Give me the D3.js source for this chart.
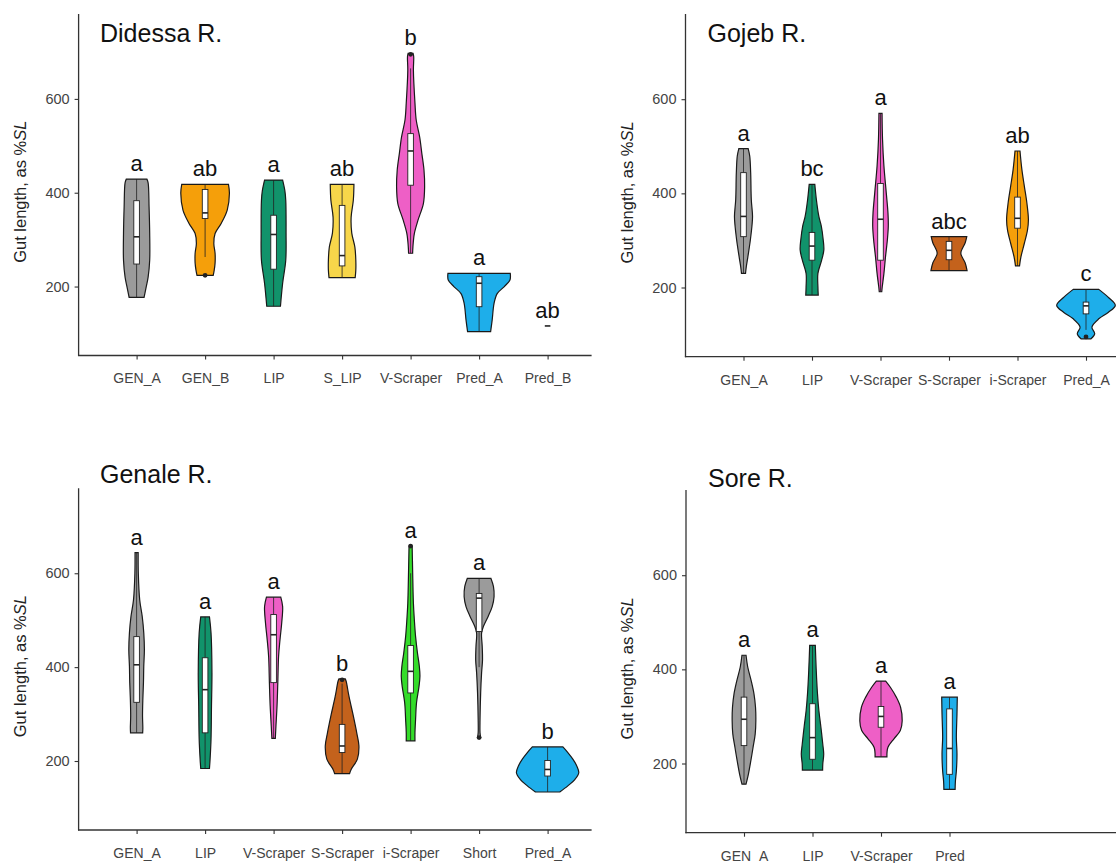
<!DOCTYPE html>
<html>
<head>
<meta charset="utf-8">
<script src="https://cdn.jsdelivr.net/npm/d3@7"></script>
<style>
  body { margin: 0; background: #fff; }
  svg text { font-family: Arial, "Liberation Sans", Helvetica, sans-serif; }
</style>
</head>
<body>
<svg id="chart" width="1116" height="863"></svg>
<script>
// ---------- data ----------
// profile points: [gut length %SL, relative violin half-width 0..1]
// boxes: [q1, median, q3, whisker low, whisker high]

var yTicks = [200, 400, 600];
var yDomain = [53, 781];

// Didessa R.
var didessaGroups = ["GEN_A", "GEN_B", "LIP", "S_LIP", "V-Scraper", "Pred_A", "Pred_B"];
var didessaColors = ["#9b9b9b", "#f59f0a", "#11936b", "#f7d64a", "#ee5fc6", "#1eaeea", "#1eaeea"];
var didessaLetters = ["a", "ab", "a", "ab", "b", "a", "ab"];
var didessaProfiles = [
  [[177, 0.24], [200, 0.31], [220, 0.37], [256, 0.42], [314, 0.42], [370, 0.40], [421, 0.37], [429, 0.33]],
  [[224, 0.26], [234, 0.29], [250, 0.32], [271, 0.32], [292, 0.28], [313, 0.32], [335, 0.52], [363, 0.71], [399, 0.78], [418, 0.75]],
  [[158, 0.22], [207, 0.29], [256, 0.39], [314, 0.40], [384, 0.39], [405, 0.36], [427, 0.29]],
  [[219, 0.42], [235, 0.44], [256, 0.44], [284, 0.41], [314, 0.31], [348, 0.29], [384, 0.36], [418, 0.38]],
  [[271, 0.065], [285, 0.075], [313, 0.12], [342, 0.24], [377, 0.41], [413, 0.45], [448, 0.43], [484, 0.36], [519, 0.29], [555, 0.18], [591, 0.14], [661, 0.09], [690, 0.10], [697, 0.08]],
  [[104, 0.37], [129, 0.42], [164, 0.48], [185, 0.58], [200, 0.81], [214, 0.99], [228, 1.0]],
  []
];
var didessaBoxes = [
  [248, 306, 383, 177, 429],
  [345, 357, 407, 263, 418],
  [237, 311, 352, 158, 427],
  [244, 266, 373, 219, 418],
  [416, 489, 526, 271, 665],
  [157, 207, 221, 104, 228],
  [116, 116, 116, 116, 116]
];
var didessaOutliers = [[], [224], [], [], [695], [], []];

// Gojeb R.
var gojebGroups = ["GEN_A", "LIP", "V-Scraper", "S-Scraper", "i-Scraper", "Pred_A"];
var gojebColors = ["#9b9b9b", "#11936b", "#ee5fc6", "#c4621c", "#f59f0a", "#1eaeea"];
var gojebLetters = ["a", "bc", "a", "abc", "ab", "c"];
var gojebProfiles = [
  [[230, 0.065], [244, 0.09], [265, 0.14], [301, 0.22], [330, 0.27], [351, 0.29], [387, 0.25], [444, 0.23], [479, 0.20], [495, 0.15]],
  [[184, 0.20], [201, 0.19], [230, 0.19], [258, 0.31], [280, 0.38], [301, 0.36], [330, 0.30], [351, 0.22], [387, 0.14], [419, 0.09]],
  [[191, 0.04], [201, 0.055], [230, 0.11], [265, 0.16], [301, 0.22], [330, 0.25], [358, 0.24], [401, 0.185], [458, 0.11], [515, 0.065], [570, 0.05]],
  [[236, 0.58], [252, 0.52], [273, 0.38], [295, 0.52], [308, 0.57]],
  [[246, 0.065], [265, 0.11], [294, 0.22], [322, 0.32], [344, 0.35], [380, 0.30], [415, 0.22], [451, 0.14], [490, 0.08]],
  [[91, 0.16], [102, 0.28], [116, 0.19], [134, 0.42], [147, 0.71], [162, 0.94], [180, 0.70], [196, 0.41]]
];
var gojebBoxes = [
  [308, 351, 444, 230, 495],
  [258, 288, 317, 184, 419],
  [258, 345, 421, 191, 570],
  [259, 279, 298, 236, 308],
  [326, 347, 392, 246, 490],
  [144, 161, 169, 110, 196]
];
var gojebOutliers = [[], [], [], [], [], [95]];

// Genale R.
var genaleGroups = ["GEN_A", "LIP", "V-Scraper", "S-Scraper", "i-Scraper", "Short", "Pred_A"];
var genaleColors = ["#9b9b9b", "#11936b", "#ee5fc6", "#c4621c", "#34dc2a", "#9b9b9b", "#1eaeea"];
var genaleLetters = ["a", "a", "a", "b", "a", "a", "b"];
var genaleProfiles = [
  [[260, 0.195], [271, 0.20], [296, 0.19], [331, 0.20], [367, 0.22], [402, 0.23], [437, 0.25], [473, 0.23], [508, 0.18], [543, 0.10], [600, 0.055], [644, 0.05]],
  [[184, 0.14], [204, 0.16], [246, 0.19], [317, 0.205], [388, 0.22], [473, 0.19], [507, 0.14]],
  [[248, 0.055], [274, 0.075], [317, 0.11], [367, 0.135], [423, 0.16], [458, 0.205], [494, 0.26], [529, 0.29], [549, 0.23]],
  [[173, 0.24], [182, 0.29], [204, 0.49], [232, 0.54], [260, 0.47], [296, 0.36], [338, 0.22], [370, 0.13], [375, 0.10]],
  [[243, 0.14], [260, 0.14], [289, 0.16], [324, 0.19], [359, 0.27], [381, 0.30], [402, 0.28], [430, 0.22], [465, 0.16], [501, 0.12], [536, 0.09], [607, 0.065], [658, 0.05]],
  [[250, 0.05], [260, 0.03], [289, 0.03], [345, 0.05], [388, 0.08], [416, 0.11], [444, 0.10], [473, 0.08], [487, 0.14], [508, 0.29], [529, 0.42], [550, 0.48], [572, 0.46], [589, 0.38]],
  [[134, 0.39], [147, 0.65], [161, 0.88], [175, 1.0], [189, 0.94], [204, 0.81], [218, 0.65], [230, 0.49]]
];
var genaleBoxes = [
  [325, 405, 465, 260, 644],
  [260, 352, 420, 184, 507],
  [367, 469, 512, 248, 549],
  [218, 232, 278, 173, 365],
  [345, 391, 446, 243, 600],
  [476, 547, 557, 400, 589],
  [168, 182, 201, 134, 230]
];
var genaleOutliers = [[], [], [], [373], [658], [250], []];

// Sore R.
var soreGroups = ["GEN_A", "LIP", "V-Scraper", "Pred"];
var soreColors = ["#9b9b9b", "#11936b", "#ee5fc6", "#1eaeea"];
var soreLetters = ["a", "a", "a", "a"];
var soreProfiles = [
  [[156, 0.065], [177, 0.14], [206, 0.22], [234, 0.29], [263, 0.36], [291, 0.38], [319, 0.37], [348, 0.32], [376, 0.23], [405, 0.12], [430, 0.065]],
  [[186, 0.325], [199, 0.33], [220, 0.36], [241, 0.33], [277, 0.27], [312, 0.205], [348, 0.16], [398, 0.12], [451, 0.09]],
  [[214, 0.19], [234, 0.22], [252, 0.41], [270, 0.62], [291, 0.68], [319, 0.63], [341, 0.49], [362, 0.30], [375, 0.15]],
  [[145, 0.18], [163, 0.19], [184, 0.22], [220, 0.24], [255, 0.22], [305, 0.24], [341, 0.25]]
];
var soreBoxes = [
  [238, 294, 341, 156, 430],
  [209, 255, 327, 186, 451],
  [277, 300, 321, 214, 375],
  [177, 232, 316, 145, 341]
];
var soreOutliers = [[], [], [], []];

// ---------- layout ----------
var catStep = 68.5;
var panels = [
  { title: "Didessa R.", groups: didessaGroups, colors: didessaColors, letters: didessaLetters, profiles: didessaProfiles, boxes: didessaBoxes, outliers: didessaOutliers,
    left: 78.6, top: 14, bottom: 355.5, titleX: 100, titleY: 42 },
  { title: "Gojeb R.", groups: gojebGroups, colors: gojebColors, letters: gojebLetters, profiles: gojebProfiles, boxes: gojebBoxes, outliers: gojebOutliers,
    left: 685.5, top: 14, bottom: 356.7, titleX: 707.5, titleY: 42 },
  { title: "Genale R.", groups: genaleGroups, colors: genaleColors, letters: genaleLetters, profiles: genaleProfiles, boxes: genaleBoxes, outliers: genaleOutliers,
    left: 78.6, top: 488.3, bottom: 830, titleX: 100, titleY: 483 },
  { title: "Sore R.", groups: soreGroups, colors: soreColors, letters: soreLetters, profiles: soreProfiles, boxes: soreBoxes, outliers: soreOutliers,
    left: 686, top: 490, bottom: 832.7, titleX: 708, titleY: 487 }
];

var svg = d3.select("#chart");

function drawPanel(p) {
  var g = svg.append("g");

  var x = d3.scalePoint()
    .domain(p.groups)
    .range([p.left + 58, p.left + 58 + (p.groups.length - 1) * catStep]);
  var y = d3.scaleLinear().domain(yDomain).range([p.bottom, p.top]);
  var w = d3.scaleLinear().domain([0, 1]).range([0, catStep * 0.455]);

  // axes
  var yAxis = g.append("g")
    .attr("transform", "translate(" + p.left + ",0)")
    .call(d3.axisLeft(y).tickValues(yTicks).tickSizeInner(4).tickSizeOuter(0).tickPadding(5));
  yAxis.select(".domain").remove();
  yAxis.selectAll("line").attr("stroke", "#333").attr("stroke-width", 1.1);
  yAxis.selectAll("text").attr("font-size", 14.5).attr("fill", "#444");

  var xAxis = g.append("g")
    .attr("transform", "translate(0," + p.bottom + ")")
    .call(d3.axisBottom(x).tickSizeInner(4).tickSizeOuter(0).tickPadding(14));
  xAxis.select(".domain").remove();
  xAxis.selectAll("line").attr("stroke", "#333").attr("stroke-width", 1.1);
  xAxis.selectAll("text").attr("font-size", 14).attr("fill", "#444");

  g.append("line")
    .attr("x1", p.left).attr("x2", p.left)
    .attr("y1", p.top).attr("y2", p.bottom + 0.6)
    .attr("stroke", "#333").attr("stroke-width", 1.3);
  g.append("line")
    .attr("x1", p.left - 0.6).attr("x2", p.left + 513)
    .attr("y1", p.bottom).attr("y2", p.bottom)
    .attr("stroke", "#333").attr("stroke-width", 1.3);

  // y title
  var yt = g.append("text")
    .attr("transform", "translate(" + (p.left - 59) + "," + ((p.top + p.bottom) / 2 + 7) + ") rotate(-90)")
    .attr("text-anchor", "middle")
    .attr("dominant-baseline", "central")
    .attr("font-size", 16.5)
    .attr("fill", "#222");
  yt.append("tspan").text("Gut length, as %");
  yt.append("tspan").attr("font-style", "italic").text("SL");

  // panel title
  g.append("text")
    .attr("x", p.titleX).attr("y", p.titleY)
    .attr("font-size", 25)
    .attr("fill", "#111")
    .text(p.title);

  // violins
  p.groups.forEach(function (name, i) {
    var cx = x(name);
    var prof = p.profiles[i];
    var box = p.boxes[i];

    if (prof.length) {
      var area = d3.area()
        .curve(d3.curveCatmullRom.alpha(0.5))
        .y(function (d) { return y(d[0]); })
        .x0(function (d) { return cx - w(d[1]); })
        .x1(function (d) { return cx + w(d[1]); });
      g.append("path")
        .datum(prof)
        .attr("d", area)
        .attr("fill", p.colors[i])
        .attr("stroke", "#1a1a1a")
        .attr("stroke-width", 1.2);
    }

    // whiskers
    g.append("line")
      .attr("x1", cx).attr("x2", cx)
      .attr("y1", y(box[3])).attr("y2", y(box[0]))
      .attr("stroke", "#222").attr("stroke-width", 0.8);
    g.append("line")
      .attr("x1", cx).attr("x2", cx)
      .attr("y1", y(box[2])).attr("y2", y(box[4]))
      .attr("stroke", "#222").attr("stroke-width", 0.8);

    // box
    g.append("rect")
      .attr("x", cx - 2.8).attr("width", 5.6)
      .attr("y", y(box[2]))
      .attr("height", Math.max(0, y(box[0]) - y(box[2])))
      .attr("fill", "#fff")
      .attr("stroke", "#222")
      .attr("stroke-width", box[0] === box[2] ? 2 : 0.9);
    g.append("line")
      .attr("x1", cx - 2.8).attr("x2", cx + 2.8)
      .attr("y1", y(box[1])).attr("y2", y(box[1]))
      .attr("stroke", "#222").attr("stroke-width", 1.6);

    // outliers
    g.selectAll(null)
      .data(p.outliers[i])
      .enter()
      .append("circle")
      .attr("cx", cx)
      .attr("cy", function (d) { return y(d); })
      .attr("r", 2.4)
      .attr("fill", "#222");

    // letters
    var top = d3.max([box[4]].concat(p.outliers[i], prof.map(function (d) { return d[0]; })));
    g.append("text")
      .attr("x", cx)
      .attr("y", y(top) - 8)
      .attr("text-anchor", "middle")
      .attr("font-size", 22)
      .attr("fill", "#111")
      .text(p.letters[i]);
  });
}

panels.forEach(drawPanel);
</script>
</body>
</html>
